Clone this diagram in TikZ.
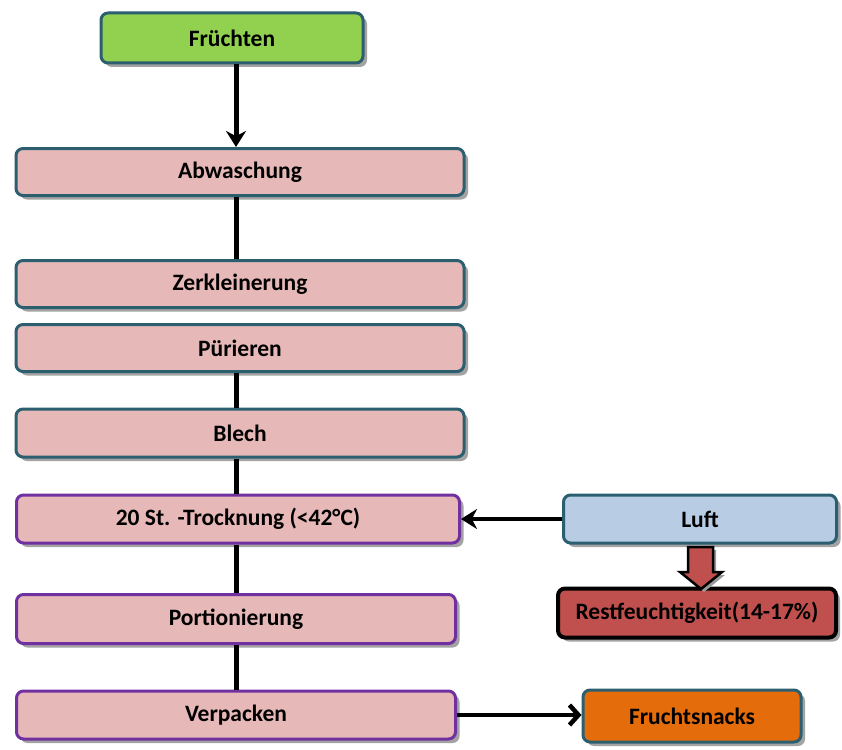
\documentclass[tikz,border=0pt]{standalone}
\usepackage{fontspec}
\setmainfont{Carlito}
\usetikzlibrary{shadows,arrows.meta}
\definecolor{teal}{HTML}{2B5F6F}
\definecolor{purp}{HTML}{7030A0}
\definecolor{pinkf}{HTML}{E6B8B7}
\definecolor{greenf}{HTML}{92D050}
\definecolor{bluef}{HTML}{B8CCE4}
\definecolor{redf}{HTML}{C0504D}
\definecolor{orangef}{HTML}{E46C0A}
\tikzset{
  box/.style={rectangle, rounded corners=7pt, line width=3pt, inner sep=0pt,
    font=\fontsize{23.5}{26}\selectfont\bfseries,
    drop shadow={shadow xshift=4pt, shadow yshift=-4pt, fill=black!45, opacity=0.8}},
  tealbox/.style={box, draw=teal, fill=pinkf},
  purpbox/.style={box, draw=purp, fill=pinkf},
  conn/.style={line width=5pt, black},
}
\begin{document}
\begin{tikzpicture}[x=1pt,y=-1pt]
\useasboundingbox (0,0) rectangle (842,749);
\node[box, draw=teal, fill=greenf, minimum width=262pt, minimum height=50pt] (f) at (232,38) {Früchten};
\node[tealbox, minimum width=448pt, minimum height=47pt] (a) at (240,172) {Abwaschung};
\node[tealbox, minimum width=448pt, minimum height=47pt] (z) at (240,284) {Zerkleinerung};
\node[tealbox, minimum width=448pt, minimum height=47pt] (p) at (240,348) {Pürieren};
\node[tealbox, minimum width=448pt, minimum height=48pt] (b) at (240,433) {Blech};
\node[purpbox, minimum width=443pt, minimum height=48pt] (t) at (238,519) {20 St. -Trocknung (<42°C)};
\node[purpbox, minimum width=439pt, minimum height=49pt] (po) at (236,619) {Portionierung};
\node[purpbox, minimum width=439pt, minimum height=48pt] (v) at (236,715) {Verpacken};
\node[box, draw=teal, fill=bluef, minimum width=273pt, minimum height=48pt] (l) at (700,519) {Luft};
\node[box, draw=black, line width=4pt, fill=redf, minimum width=278pt, minimum height=49pt] (r) at (697,613) {Restfeuchtigkeit(14-17\%)};
\node[box, draw=teal, fill=orangef, minimum width=218pt, minimum height=52pt] (fs) at (692,716) {Fruchtsnacks};

\draw[conn, -{Stealth[length=16pt,width=20pt]}] (f.south -| 236,0) -- (a.north -| 236,0);
\draw[conn] (a.south -| 236,0) -- (z.north -| 236,0);
\draw[conn] (p.south -| 236,0) -- (b.north -| 236,0);
\draw[conn] (b.south -| 236,0) -- (t.north -| 236,0);
\draw[conn] (t.south -| 236,0) -- (po.north -| 236,0);
\draw[conn] (po.south -| 236,0) -- (v.north -| 236,0);
\draw[line width=3.5pt, -{Stealth[length=16pt,width=20pt]}] (l.west) -- (l.west -| t.east);
\draw[line width=4.5pt, -{Straight Barb[length=9pt,width=20pt,line width=4.5pt]}] (v.east) -- (v.east -| fs.west);
\fill[black!40] (691,550) -- (716,550) -- (716,575) -- (725,575) -- (704,592) -- (683,575) -- (691,575) -- cycle;
\draw[line width=2.5pt, fill=redf, line join=miter] (688,547) -- (713,547) -- (713,572) -- (722,572) -- (701,589) -- (680,572) -- (688,572) -- cycle;
\end{tikzpicture}
\end{document}
